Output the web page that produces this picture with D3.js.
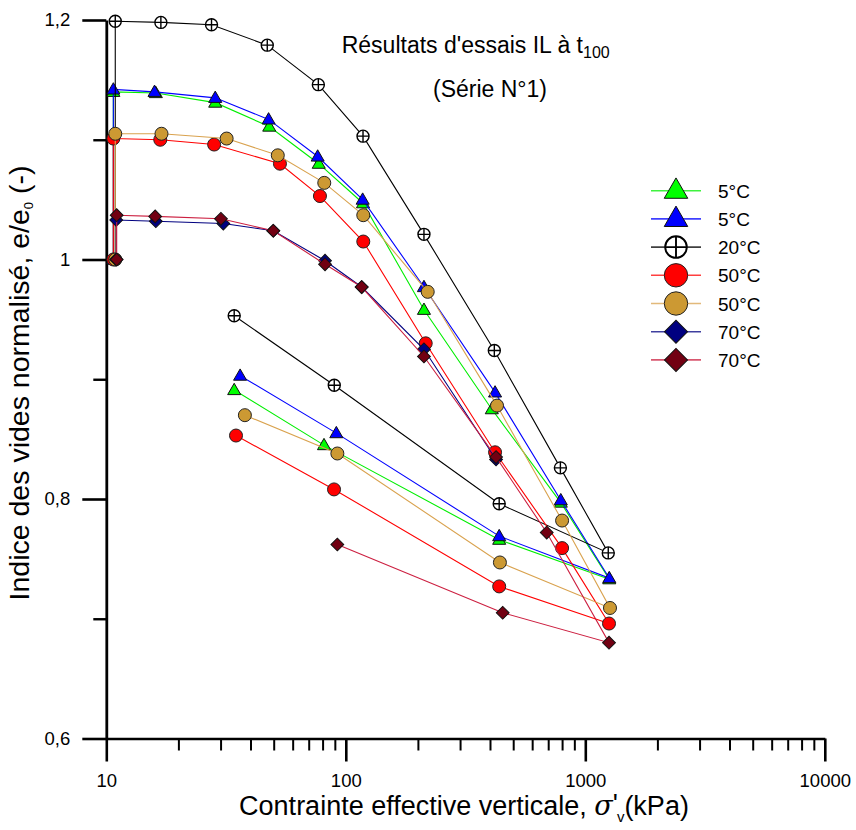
<!DOCTYPE html>
<html><head><meta charset="utf-8">
<script src="https://cdn.jsdelivr.net/npm/d3@7"></script>
<style>
body{margin:0;background:#fff}
svg{display:block}
text{font-family:"Liberation Sans",Arial,sans-serif;fill:#000}
</style>
</head><body>
<svg id="c" width="856" height="830"></svg>
<script>
// ---- data (sigma'v in kPa, e/e0) ----
const sig5a  = [10.7,10.7,16.1,28.5,47.9,77.1,118,212,407,790,1259,437,81.1,34.2];
const e5a    = [1.000,1.140,1.139,1.131,1.111,1.080,1.047,0.958,0.875,0.797,0.733,0.766,0.845,0.891];
const sig5b  = [10.7,10.7,15.9,28.5,47.6,76.3,117.6,212,420,790,1259,437,91.3,36.2];
const e5b    = [1.000,1.142,1.140,1.135,1.117,1.086,1.050,0.977,0.889,0.799,0.734,0.769,0.855,0.903];
const sig20  = [10.9,10.9,16.9,27.5,47.0,76.8,118,212,417,787,1247,437,89.5,34.2];
const e20    = [1.000,1.199,1.198,1.196,1.179,1.146,1.103,1.021,0.924,0.826,0.755,0.796,0.895,0.953];
const sig50a = [10.7,10.7,16.8,28.2,53.1,78,118.3,215.6,420,800,1256,437,89.3,34.8];
const e50a   = [1.000,1.101,1.100,1.096,1.080,1.053,1.015,0.930,0.839,0.759,0.696,0.727,0.808,0.853];
const sig50b = [10.9,10.9,17.0,31.8,52.0,81.3,118.3,219.8,428,800,1268,440,92.2,37.9];
const e50b   = [1.000,1.105,1.105,1.101,1.087,1.064,1.037,0.973,0.878,0.782,0.709,0.747,0.838,0.870];
const sig70a = [11.0,11.0,16.1,30.8,49.8,81.9,116.5,212,424];
const e70a   = [1.000,1.033,1.032,1.030,1.024,0.999,0.977,0.925,0.833];
const sig70b = [11.05,11.05,16.0,30.1,49.8,81.9,116.5,212,424,690,1256,452,92.2];
const e70b   = [1.000,1.037,1.036,1.034,1.024,0.996,0.977,0.919,0.835,0.772,0.680,0.705,0.762];

const legendLabels = ["5°C","5°C","20°C","50°C","50°C","70°C","70°C"];
const xMajor = [10,100,1000,10000];
const xMinor = [20,30,40,50,60,70,80,90,200,300,400,500,600,700,800,900,2000,3000,4000,5000,6000,7000,8000,9000];
const yMajor = [0.6,0.8,1.0,1.2];
const yMajorLabels = ["0,6","0,8","1","1,2"];
const yMinor = [0.7,0.9,1.1];

const series = [
  {sig:sig5a,  e:e5a,  line:"#00ee00", fill:"#00ff00", shape:"tri"},
  {sig:sig5b,  e:e5b,  line:"#0000ff", fill:"#0000ff", shape:"tri"},
  {sig:sig20,  e:e20,  line:"#000000", fill:"#ffffff", shape:"cross"},
  {sig:sig50a, e:e50a, line:"#ff0000", fill:"#ff0000", shape:"circ"},
  {sig:sig50b, e:e50b, line:"#d9a24e", fill:"#cc9933", shape:"circ"},
  {sig:sig70a, e:e70a, line:"#000080", fill:"#000080", shape:"diam"},
  {sig:sig70b, e:e70b, line:"#cc1f40", fill:"#720012", shape:"diam"}
];
series.forEach((s,i)=>s.label=legendLabels[i]);

const svg = d3.select("#c");
const x = d3.scaleLog().domain([10,10000]).range([106.3,824.8]);
const y = d3.scaleLinear().domain([0.6,1.2]).range([738.5,20]);

// ---- axes ----
const gxMin = svg.append("g").attr("transform",`translate(0,${y(0.6)})`)
  .call(d3.axisBottom(x).tickValues(xMinor).tickFormat("").tickSize(12).tickSizeOuter(0));
gxMin.select(".domain").remove();
gxMin.selectAll("line").attr("stroke","#000").attr("stroke-width",2);
const gx = svg.append("g").attr("transform",`translate(0,${y(0.6)})`)
  .call(d3.axisBottom(x).tickValues(xMajor).tickFormat(d3.format("d")).tickSize(23).tickSizeOuter(0).tickPadding(12));
gx.select(".domain").attr("stroke","#000").attr("stroke-width",2.6);
gx.selectAll("line").attr("stroke","#000").attr("stroke-width",2.6);
gx.selectAll("text").attr("font-family","Liberation Sans, Arial, sans-serif").attr("font-size",18.5);

const gyMin = svg.append("g").attr("transform",`translate(${x(10)},0)`)
  .call(d3.axisLeft(y).tickValues(yMinor).tickFormat("").tickSize(13).tickSizeOuter(0));
gyMin.select(".domain").remove();
gyMin.selectAll("line").attr("stroke","#000").attr("stroke-width",2.4);
const gy = svg.append("g").attr("transform",`translate(${x(10)},0)`)
  .call(d3.axisLeft(y).tickValues(yMajor).tickFormat((d,i)=>yMajorLabels[i]).tickSize(24).tickSizeOuter(0).tickPadding(12));
gy.select(".domain").attr("stroke","#000").attr("stroke-width",2.8);
gy.selectAll("line").attr("stroke","#000").attr("stroke-width",2.6);
gy.selectAll("text").attr("font-family","Liberation Sans, Arial, sans-serif").attr("font-size",18.5);

// ---- markers ----
function marker(g, shape, cx, cy, k, fill){
  const t = `translate(${cx},${cy})`;
  if(shape==="tri"){
    g.append("path").attr("d", d3.symbol(d3.symbolTriangle, 74*k*k)()).attr("transform",t+" translate(0,0.8)")
      .attr("fill",fill).attr("stroke","#111").attr("stroke-width",1);
  } else if(shape==="circ"){
    g.append("circle").attr("cx",cx).attr("cy",cy).attr("r",6.5*k)
      .attr("fill",fill).attr("stroke","#222").attr("stroke-width",1);
  } else if(shape==="diam"){
    g.append("path").attr("d", d3.symbol(d3.symbolSquare, 82*k*k)()).attr("transform",t+" rotate(45)")
      .attr("fill",fill).attr("stroke","#111").attr("stroke-width",1);
  } else {
    const r = 6*k;
    g.append("circle").attr("cx",cx).attr("cy",cy).attr("r",r)
      .attr("fill","#fff").attr("stroke","#000").attr("stroke-width",1.4*Math.sqrt(k));
    g.append("path").attr("d",`M${cx-r},${cy}H${cx+r}M${cx},${cy-r}V${cy+r}`)
      .attr("stroke","#000").attr("stroke-width",1.4*Math.sqrt(k));
  }
}

const line = d3.line().x(d=>x(d[0])).y(d=>y(d[1]));
series.forEach(s=>{
  const pts = s.sig.map((v,i)=>[v,s.e[i]]);
  const g = svg.append("g");
  g.append("path").datum(pts).attr("d",line).attr("fill","none")
    .attr("stroke",s.line).attr("stroke-width",1.1);
  pts.forEach(p=>marker(g, s.shape, x(p[0]), y(p[1]), 1, s.fill));
});

// ---- legend ----
const lg = svg.append("g");
series.forEach((s,i)=>{
  const yy = 190.7 + i*28.2;
  lg.append("line").attr("x1",651).attr("x2",701).attr("y1",yy).attr("y2",yy)
    .attr("stroke",s.line).attr("stroke-width",1.6).attr("opacity",0.75);
  marker(lg, s.shape, 676, yy, 1.8, s.fill);
  lg.append("text").attr("x",718).attr("y",yy+7).attr("font-size",19).text(s.label);
});

// ---- titles ----
const t1 = svg.append("text").attr("x",341.7).attr("y",53).attr("font-size",23);
t1.append("tspan").text("Résultats d'essais IL à t");
t1.append("tspan").attr("font-size",16).attr("dy",5).text("100");
svg.append("text").attr("x",433).attr("y",97).attr("font-size",23).text("(Série N°1)");

// x label
const xl = svg.append("text").attr("x",464).attr("y",815).attr("text-anchor","middle").attr("font-size",27);
xl.append("tspan").text("Contrainte effective verticale, ");
xl.append("tspan").attr("font-style","italic").attr("font-family","DejaVu Serif, serif").text("σ");
xl.append("tspan").attr("dy",-2).text("'");
xl.append("tspan").attr("font-size",15).attr("dy",9).attr("dx",-1).text("v");
xl.append("tspan").attr("dy",-7).text("(kPa)");

// y label
const yl = svg.append("text").attr("transform","translate(29,383) rotate(-90)").attr("text-anchor","middle").attr("font-size",28.5);
yl.append("tspan").text("Indice des vides normalisé, e/e");
yl.append("tspan").attr("font-size",13).attr("dy",4).text("0");
yl.append("tspan").attr("dy",-4).text(" (-)");
</script>
</body></html>
